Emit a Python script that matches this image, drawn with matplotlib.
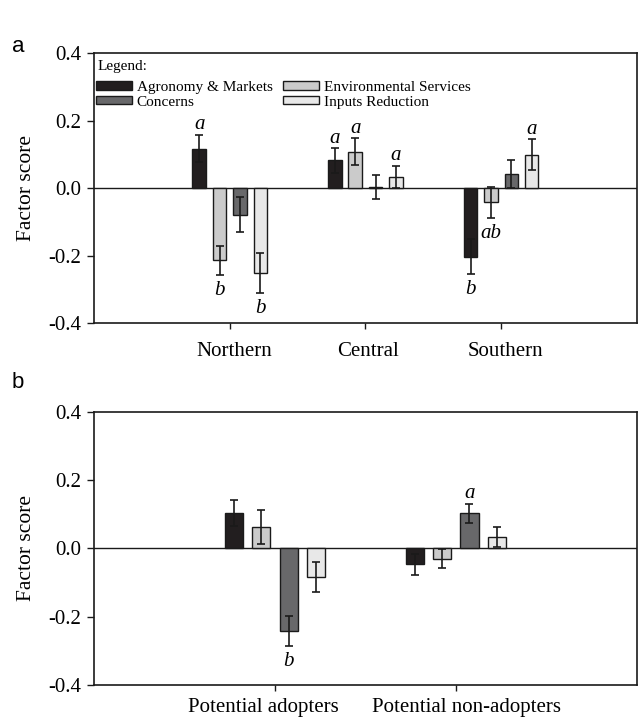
import numpy as np
from matplotlib import pyplot as plt
from matplotlib.patches import Patch
import matplotlib.transforms as mtransforms

plt.rcParams['font.family'] = ['Liberation Serif', 'DejaVu Serif']

# data: series order of bars inside a group
series = ["Agronomy & Markets", "Environmental Services", "Concerns", "Inputs Reduction"]
colors = ["#221e1f", "#cbcbcb", "#68686a", "#e8e8e8"]

regions = ["Northern", "Central", "Southern"]
region_vals = [[0.117, 0.082, -0.203],   # agronomy & markets
               [-0.214, 0.108, -0.042],  # environmental services
               [-0.079, 0.003, 0.042],   # concerns
               [-0.251, 0.032, 0.099]]   # inputs reduction
region_err = [[0.041, 0.036, 0.052],
              [0.043, 0.039, 0.046],
              [0.052, 0.036, 0.042],
              [0.059, 0.033, 0.045]]
region_letters = [["a", "a", "b"],
                  ["b", "a", "ab"],
                  ["", "", ""],
                  ["b", "a", "a"]]

groups = ["Potential adopters", "Potential non-adopters"]
group_vals = [[0.103, -0.047],
              [0.064, -0.030],
              [-0.242, 0.103],
              [-0.083, 0.034]]
group_err = [[0.038, 0.031],
             [0.050, 0.028],
             [0.044, 0.028],
             [0.044, 0.030]]
group_letters = [["", ""],
                 ["", ""],
                 ["b", "a"],
                 ["", ""]]

offsets = [-0.225, -0.075, 0.075, 0.225]
width = 0.1

fig = plt.figure(figsize=(6.4, 7.17), dpi=100)
ax1 = fig.add_axes([0.147, 0.5495, 0.848, 0.3765])
ax2 = fig.add_axes([0.147, 0.0446, 0.848, 0.381])


def draw_panel(ax, labels, vals, errs, letters, xpad, shifts):
    x = np.arange(1, len(labels) + 1)
    for i in range(4):
        xs = x + offsets[i]
        v = np.array(vals[i])
        e = np.array(errs[i])
        ax.bar(xs, v, width, color=colors[i], edgecolor="#1a1a1a", linewidth=1.0, zorder=2)
        ax.errorbar(xs, v, yerr=e, fmt="none", ecolor="#1a1a1a", elinewidth=1.2,
                    capsize=3, capthick=1.2, zorder=3)
        for xi, vi, ei, let in zip(xs, v, e, letters[i]):
            if not let:
                continue
            if vi >= 0:
                ax.text(xi, vi + ei + 0.002, let, ha="center", va="bottom",
                        fontsize=15, style="italic")
            else:
                ax.text(xi, vi - ei - 0.018, let, ha="center", va="top",
                        fontsize=15, style="italic")
    ax.axhline(0, color="#1a1a1a", linewidth=1.0, zorder=1)
    ax.set_xlim(0, len(labels) + 1)
    ax.set_ylim(-0.4, 0.4)
    ax.set_yticks([-0.4, -0.2, 0.0, 0.2, 0.4])
    ax.set_yticklabels(["-0.4", "-0.2", "0.0", "0.2", "0.4"])
    ax.set_xticks(x)
    ax.set_xticklabels(labels)
    ax.tick_params(axis="both", direction="out", labelsize=15, width=1.0, color="#1a1a1a")
    ax.tick_params(axis="y", length=5, pad=4)
    ax.tick_params(axis="x", length=4, pad=xpad)
    ax.set_ylabel("Factor score", fontsize=15.5, labelpad=9)
    for lab, dx in zip(ax.get_xticklabels(), shifts):
        lab.set_transform(lab.get_transform() +
                          mtransforms.ScaledTranslation(dx / 100, 0, fig.dpi_scale_trans))
    for s in ax.spines.values():
        s.set_linewidth(1.2)
        s.set_color("#1a1a1a")


draw_panel(ax1, regions, region_vals, region_err, region_letters, 10, [4, 3, 4])
draw_panel(ax2, groups, group_vals, group_err, group_letters, 5, [-12, 11])

# legend, column-major: agronomy, concerns | environmental, inputs
order = [0, 2, 1, 3]
handles = [Patch(facecolor=colors[i], edgecolor="#1a1a1a", linewidth=1.0) for i in order]
ax1.text(0.007, 0.95, "Legend:", transform=ax1.transAxes, fontsize=11, va="center", ha="left")
leg = ax1.legend(handles, [series[i] for i in order], ncol=2, loc="upper left",
                 bbox_to_anchor=(0.0, 0.905), borderaxespad=0.0, borderpad=0.15,
                 frameon=False, fontsize=11,
                 handlelength=2.3, handleheight=0.5,
                 handletextpad=0.35, columnspacing=0.7, labelspacing=0.1)

fig.text(0.018, 0.935, "a", fontsize=16, family="Liberation Sans", va="center")
fig.text(0.018, 0.467, "b", fontsize=16, family="Liberation Sans", va="center")

plt.savefig("out.png", dpi=100)
